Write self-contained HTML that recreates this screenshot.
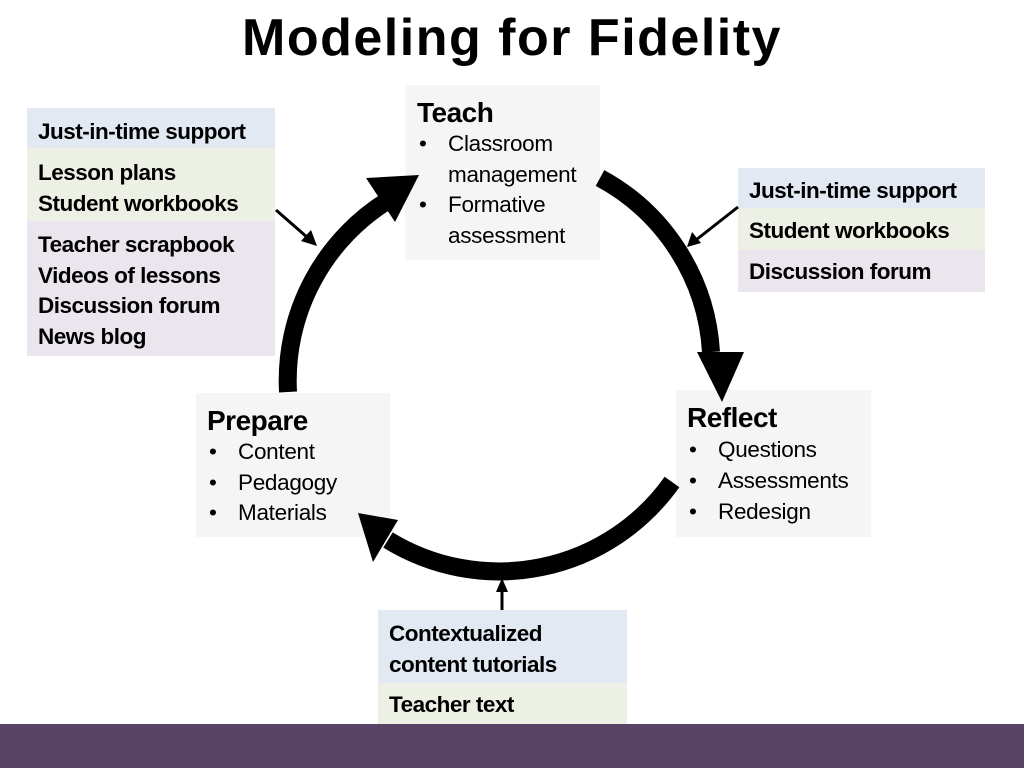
<!DOCTYPE html>
<html><head><style>
body{margin:0;width:1024px;height:768px;position:relative;background:#fff;font-family:"Liberation Sans",sans-serif;overflow:hidden;color:#000}
.a{position:absolute;box-sizing:border-box}
.t{font-size:22.5px;letter-spacing:-0.3px;line-height:30.5px}
.b{font-weight:bold;letter-spacing:-0.5px}
h1{position:absolute;left:0;width:1024px;top:8px;margin:0;text-align:center;font-size:52px;font-weight:bold;letter-spacing:1.5px}
.box{background:#f5f5f5}
.h{font-size:28px;font-weight:bold;letter-spacing:-0.5px;line-height:32px}
ul{margin:0;padding:0;list-style:none}
li{position:relative;padding-left:31px}
li:before{content:"•";position:absolute;left:2px}
</style></head><body>
<h1>Modeling for Fidelity</h1>

<div class="a box" style="left:405px;top:85px;width:195px;height:175px;padding:12px 0 0 12px">
<div class="h">Teach</div>
<ul class="t" style="line-height:30.5px"><li>Classroom<br>management</li><li>Formative<br>assessment</li></ul></div>

<div class="a box" style="left:196px;top:393px;width:194px;height:144px;padding:12px 0 0 11px">
<div class="h">Prepare</div>
<ul class="t" style="line-height:30.5px"><li>Content</li><li>Pedagogy</li><li>Materials</li></ul></div>

<div class="a box" style="left:676px;top:390px;width:195px;height:147px;padding:12px 0 0 11px">
<div class="h">Reflect</div>
<ul class="t" style="line-height:31px"><li>Questions</li><li>Assessments</li><li>Redesign</li></ul></div>

<div class="a t b" style="left:27px;top:108px;width:248px;height:40px;background:#e3e9f3;padding:9px 0 0 11px">Just-in-time support</div>
<div class="a t b" style="left:27px;top:148px;width:248px;height:73px;background:#edf1e5;padding:10px 0 0 11px">Lesson plans<br>Student workbooks</div>
<div class="a t b" style="left:27px;top:221px;width:248px;height:135px;background:#ebe6ee;padding:9px 0 0 11px">Teacher scrapbook<br>Videos of lessons<br>Discussion forum<br>News blog</div>

<div class="a t b" style="left:738px;top:168px;width:247px;height:40px;background:#e3e9f3;padding:8px 0 0 11px">Just-in-time support</div>
<div class="a t b" style="left:738px;top:208px;width:247px;height:42px;background:#edf1e5;padding:8px 0 0 11px">Student workbooks</div>
<div class="a t b" style="left:738px;top:250px;width:247px;height:42px;background:#ebe6ee;padding:7px 0 0 11px">Discussion forum</div>

<div class="a t b" style="left:378px;top:610px;width:249px;height:73px;background:#e3e9f3;padding:9px 0 0 11px">Contextualized<br>content tutorials</div>
<div class="a t b" style="left:378px;top:683px;width:249px;height:41px;background:#edf1e5;padding:7px 0 0 11px">Teacher text</div>

<div class="a" style="left:0;top:724px;width:1024px;height:44px;background:#574467"></div>

<svg class="a" style="left:0;top:0" width="1024" height="768">
<g fill="none" stroke="#000" stroke-width="18">
<path d="M600,178 A212,212 0 0 1 711,352"/>
<path d="M288,392 A212,212 0 0 1 392,198"/>
<path d="M672,482 A212,212 0 0 1 388,540"/>
</g>
<polygon points="697,352 744,352 722,402"/>
<polygon points="366,178 419,175 395,222"/>
<polygon points="358,513 398,520 373,562"/>
<g stroke="#000" stroke-width="3">
<line x1="276" y1="210" x2="308" y2="238"/>
<line x1="738" y1="207" x2="696" y2="240"/>
<line x1="502" y1="610" x2="502" y2="588"/>
</g>
<polygon points="317,246 301,241 311,230"/>
<polygon points="687,247 692,232 701,243"/>
<polygon points="502,578 496,592 508,592"/>
</svg>
</body></html>
